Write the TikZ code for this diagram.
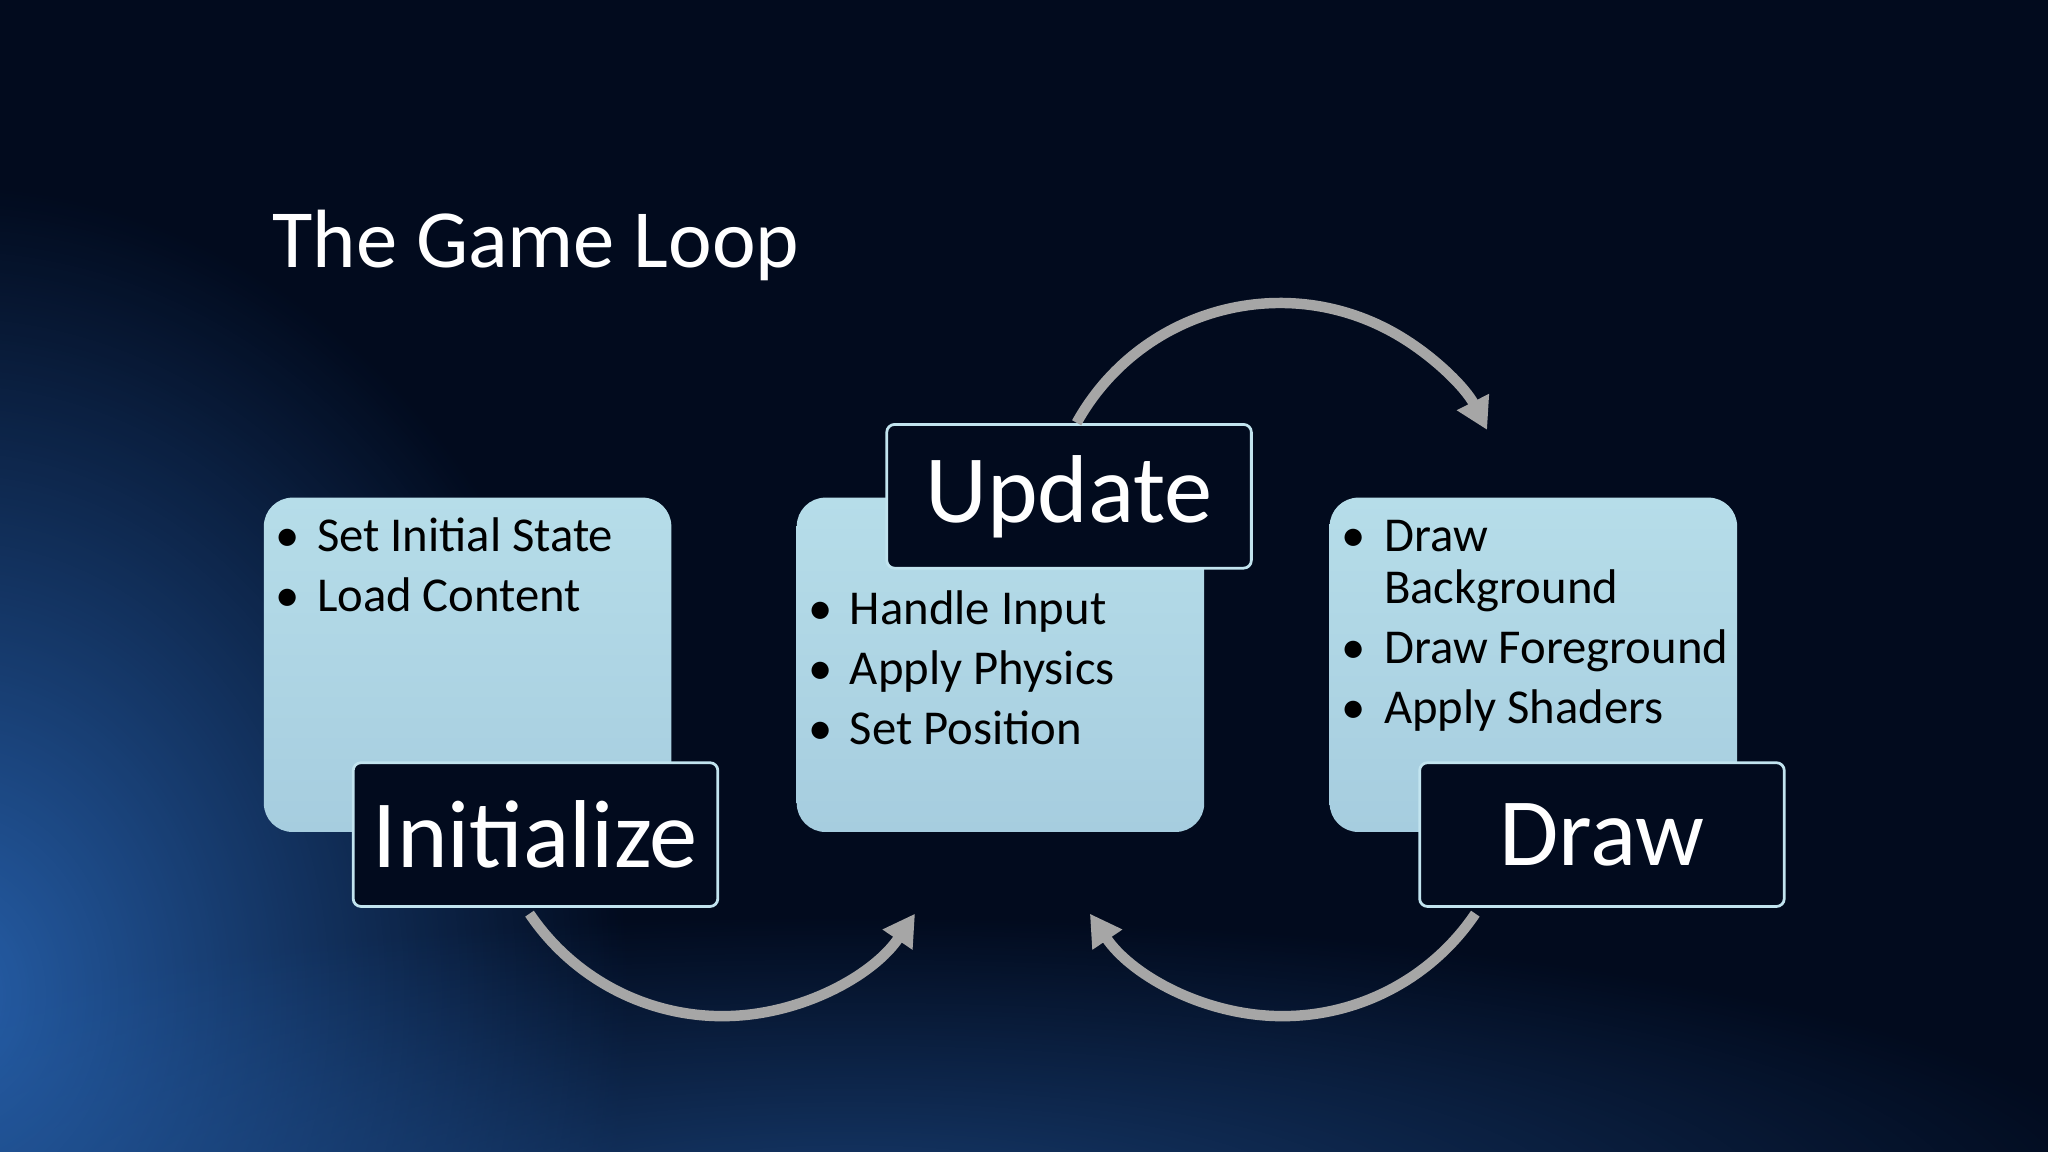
\documentclass[tikz,border=0pt]{standalone}
\usepackage{fontspec}
\setmainfont{Carlito}
\usetikzlibrary{arrows.meta,fadings}
\definecolor{bg}{HTML}{020B1E}
\definecolor{boxtop}{HTML}{B6DDE9}
\definecolor{boxbot}{HTML}{A6CDDF}
\definecolor{edge}{HTML}{C2E4EF}
\definecolor{arc}{HTML}{A6A6A6}
\definecolor{glow}{HTML}{2A68B8}
\tikzfading[name=softglow, inner color=transparent!0, outer color=transparent!100]
\tikzset{
  panel/.style={rounded corners=0.22cm, top color=boxtop, bottom color=boxbot, draw=none},
  tag/.style={draw=edge, line width=0.6pt, fill=bg, rounded corners=0.06cm, text=white, font=\fontsize{21}{24}\selectfont},
  item/.style={anchor=base west, inner sep=0pt, text=black, font=\fontsize{10.6}{13}\selectfont},
  dot/.style={anchor=base, inner sep=0pt, text=black, font=\fontsize{10.6}{13}\selectfont},
  loop/.style={draw=arc, line width=0.08cm, -{Triangle[length=0.24cm,width=0.26cm]}}
}
\begin{document}
\begin{tikzpicture}[x=0.01cm,y=0.01cm]
\useasboundingbox (0,0) rectangle (1568,882);
\fill[bg] (0,0) rectangle (1568,882);
\begin{scope}
\clip (0,0) rectangle (1568,882);
\fill[glow, path fading=softglow, opacity=0.9] (-40,120) ellipse (520 and 620);
\fill[glow, path fading=softglow, opacity=0.5] (650,-40) ellipse (1000 and 220);
\end{scope}
\node[anchor=base west, text=white, inner sep=0pt, font=\fontsize{18}{22}\selectfont] (title) at (208,677) {The Game Loop};
% panels
\path[panel] (202,245) rectangle (514,501);
\path[panel] (610,245) rectangle (922,501);
\path[panel] (1018,245) rectangle (1330,501);
% left items
\node[dot] (l1b) at (220,460) {•}; \node[item] (l1) at (242,460) {Set Initial State};
\node[dot] (l2b) at (220,414) {•}; \node[item] (l2) at (242,414) {Load Content};
% mid items
\node[dot] (m1b) at (628,404) {•}; \node[item] (m1) at (650,404) {Handle Input};
\node[dot] (m2b) at (628,358) {•}; \node[item] (m2) at (650,358) {Apply Physics};
\node[dot] (m3b) at (628,312) {•}; \node[item] (m3) at (650,312) {Set Position};
% right items
\node[dot] (r1b) at (1036,460) {•}; \node[item] (r1) at (1059,460) {Draw};
\node[item] (r1x) at (1059,420) {Background};
\node[dot] (r2b) at (1036,374) {•}; \node[item] (r2) at (1059,374) {Draw Foreground};
\node[dot] (r3b) at (1036,328) {•}; \node[item] (r3) at (1059,328) {Apply Shaders};
% tags
\node[tag, minimum width=2.79cm, minimum height=1.1cm] (init) at (410,243) {Initialize};
\node[tag, minimum width=2.79cm, minimum height=1.1cm] (upd) at (818.5,502) {Update};
\node[tag, minimum width=2.79cm, minimum height=1.1cm] (drw) at (1226.5,243) {Draw};
% loops
\coordinate (ctop) at (980,472);
\coordinate (cl) at (553,282);
\coordinate (cr) at (982,282);
\draw[loop] ([shift={(151:178)}]ctop) arc[start angle=151, end angle=27, radius=178];
\draw[loop] ([shift={(214:178)}]cl) arc[start angle=214, end angle=326, radius=178];
\draw[loop] ([shift={(326:178)}]cr) arc[start angle=326, end angle=214, radius=178];
\end{tikzpicture}
\end{document}
